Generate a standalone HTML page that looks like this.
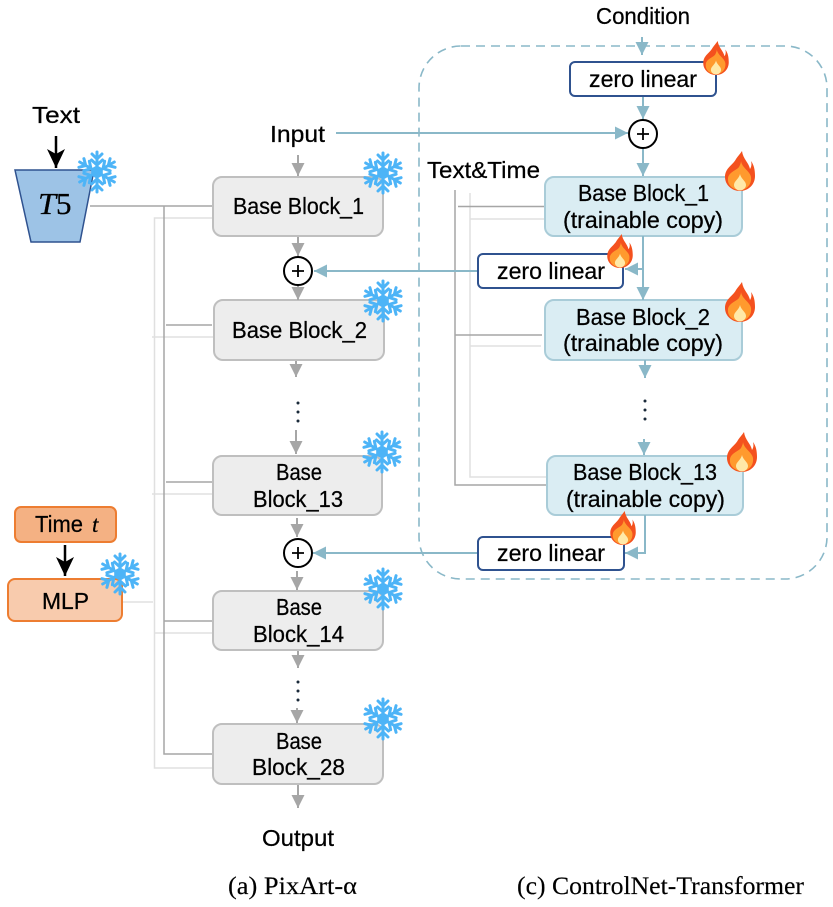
<!DOCTYPE html>
<html><head><meta charset="utf-8"><style>
html,body{margin:0;padding:0;background:#fff}
svg{display:block}
text{font-family:"Liberation Sans",sans-serif;font-size:23px;fill:#000;stroke:#000;stroke-width:.25}
.cap{font-family:"Liberation Serif",serif;font-size:25px;stroke-width:.15}
.gb{fill:#ededed;stroke:#bfbfbf;stroke-width:2}
.bb{fill:#daedf3;stroke:#a9ccd8;stroke-width:2}
.z{fill:#fff;stroke:#2f528f;stroke-width:2}
.d{stroke:#a6a6a6;stroke-width:1.5;fill:none}
.l{stroke:#e0e0e0;stroke-width:1.5;fill:none}
.g{stroke:#a6a6a6;stroke-width:2;fill:none;marker-end:url(#mg)}
.b{stroke:#8ab8c8;stroke-width:2;fill:none;marker-end:url(#mb)}
.k{stroke:#000;stroke-width:2.5;fill:none;marker-end:url(#mk)}
.p{fill:#fff;stroke:#000;stroke-width:2}
</style></head><body>
<svg xmlns="http://www.w3.org/2000/svg" width="833" height="907" viewBox="0 0 833 907">
<defs>
<marker id="mg" markerUnits="userSpaceOnUse" markerWidth="14" markerHeight="14" refX="13" refY="7" orient="auto"><path d="M0 .5L13 7L0 13.500Z" fill="#a6a6a6"/></marker>
<marker id="mb" markerUnits="userSpaceOnUse" markerWidth="14" markerHeight="14" refX="13" refY="7" orient="auto"><path d="M0 .5L13 7L0 13.500Z" fill="#8ab8c8"/></marker>
<marker id="mk" markerUnits="userSpaceOnUse" markerWidth="20" markerHeight="20" refX="19" refY="10" orient="auto"><path d="M0 1L19 10L0 19L5 10Z" fill="#000"/></marker>
<g id="arm"><path d="M0 0V-20M0 -7L-5.500 -12M0 -7L5.500 -12M0 -13L-5 -18M0 -13L5 -18"/></g>
<g id="sf" fill="none" stroke="#4db4f7" stroke-width="3" stroke-linecap="round">
<use href="#arm"/><use href="#arm" transform="rotate(60)"/><use href="#arm" transform="rotate(120)"/><use href="#arm" transform="rotate(180)"/><use href="#arm" transform="rotate(240)"/><use href="#arm" transform="rotate(300)"/>
<path d="M0 -5L4.300 -2.500V2.500L0 5L-4.300 2.500V-2.500Z"/>
</g>
<g id="fire">
<path d="M2 -20C3 -12 9 -8 10 -2C12 -5 11.500 -8 11 -10C14 -6 15 -1 15 5C15 14 8 20 0 20C-8 20 -15 14 -15 6C-15 -3 -7 -6 -4 -12C-2 -15 0 -17 2 -20Z" fill="#f4511e"/>
<path d="M1 -10C2 -3 10 0 11 6C12 14 6 19 0 19C-7 19 -13 14 -12 7C-11 1 -3 -1 -1 -4C0 -6 1 -8 1 -10Z" fill="#ff9a2e"/>
<path d="M0 3C1 8 6 10 6 14C6 17 3 19.500 0 19.500C-3 19.500 -6 17 -6 14C-6 10 -1 8 0 3Z" fill="#ffe9a8"/>
</g>
</defs>
<rect width="833" height="907" fill="#fff"/>

<!-- dashed container -->
<rect x="419" y="46" width="408" height="533" rx="42" fill="none" stroke="#8ab8c8" stroke-width="1.6" stroke-dasharray="9 6"/>

<!-- left gray connectors -->
<path class="l" d="M213 218H154.500V768H213M152 337H213M152 494H213M155 633H213M122 602H153"/>
<path class="d" d="M90 206H213M164 206V754H213M166 325H212M166 482H212M164 621H213"/>
<!-- right gray connectors -->
<path class="l" d="M470 193V477H546M470 219H545M470 346H541"/>
<path class="d" d="M455 190V485H547M458 206.500H545M455 335H542"/>

<!-- T5 -->
<path d="M15 170H94L80 242H31Z" fill="#9dc3e6" stroke="#2f528f" stroke-width="1.500"/>
<text x="38" y="214" style="font-family:'Liberation Serif',serif;font-size:31px;font-style:italic" textLength="18" lengthAdjust="spacingAndGlyphs">T</text>
<text x="56" y="214" style="font-family:'Liberation Serif',serif;font-size:31px">5</text>
<line class="k" x1="56" y1="136" x2="56" y2="168"/>

<!-- Time & MLP -->
<rect x="15" y="507" width="101" height="35" rx="6" fill="#f4b183" stroke="#ed7d31" stroke-width="2"/>
<rect x="8" y="579" width="114" height="42" rx="7" fill="#f8cbad" stroke="#ed7d31" stroke-width="2"/>
<line class="k" x1="65" y1="545" x2="65" y2="576"/>

<!-- base blocks -->
<rect class="gb" x="213" y="177" width="170" height="59" rx="9"/>
<rect class="gb" x="214" y="300" width="170" height="60" rx="9"/>
<rect class="gb" x="213" y="456" width="169" height="59" rx="9"/>
<rect class="gb" x="213" y="591" width="170" height="59" rx="9"/>
<rect class="gb" x="213" y="724" width="170" height="60" rx="9"/>

<!-- gray arrows -->
<line class="g" x1="298" y1="155" x2="298" y2="176"/>
<line class="g" x1="298" y1="237" x2="298" y2="256"/>
<line class="g" x1="298" y1="285" x2="298" y2="300"/>
<line class="g" x1="296" y1="361" x2="296" y2="377"/>
<line class="g" x1="296" y1="430" x2="296" y2="454"/>
<line class="g" x1="297" y1="518" x2="297" y2="537"/>
<line class="g" x1="297" y1="571" x2="297" y2="590"/>
<line class="g" x1="298" y1="651" x2="298" y2="668"/>
<line class="g" x1="297" y1="708" x2="297" y2="723"/>
<line class="g" x1="298" y1="785" x2="298" y2="808"/>

<!-- right blocks -->
<rect class="bb" x="545" y="177" width="197" height="59" rx="9"/>
<rect class="bb" x="545" y="300" width="197" height="60" rx="9"/>
<rect class="bb" x="547" y="456" width="196" height="59" rx="9"/>

<!-- blue arrows -->
<line class="b" x1="642" y1="37" x2="642" y2="55"/>
<line class="b" x1="643" y1="96" x2="643" y2="119"/>
<line class="b" x1="643" y1="148" x2="643" y2="176"/>
<line class="b" x1="336" y1="133" x2="628" y2="133"/>
<line class="b" x1="643" y1="236" x2="643" y2="300"/>
<line class="b" x1="643" y1="269" x2="625" y2="269"/>
<line class="b" x1="478" y1="271" x2="314" y2="271"/>
<line class="b" x1="645" y1="360" x2="645" y2="378"/>
<line class="b" x1="644" y1="439" x2="644" y2="455"/>
<path class="b" d="M645 515V553H625"/>
<line class="b" x1="478" y1="553" x2="313" y2="553"/>

<!-- zero linear boxes -->
<rect class="z" x="570" y="62" width="146" height="34" rx="5"/>
<rect class="z" x="478" y="254" width="145" height="34" rx="5"/>
<rect class="z" x="478" y="537" width="146" height="33" rx="5"/>

<!-- plus nodes -->
<circle class="p" cx="643" cy="134" r="14"/>
<circle class="p" cx="298" cy="271" r="14"/>
<circle class="p" cx="298" cy="553" r="14"/>
<path d="M643 128V140M637 134H649M298 265V277M292 271H304M298 547V559M292 553H304" stroke="#000" stroke-width="1.800" fill="none"/>

<!-- dots -->
<g fill="#1a2a3a">
<circle cx="298" cy="403" r="1.500"/><circle cx="298" cy="412" r="1.500"/><circle cx="298" cy="421" r="1.500"/>
<circle cx="298" cy="682" r="1.500"/><circle cx="298" cy="691" r="1.500"/><circle cx="298" cy="700" r="1.500"/>
<circle cx="645" cy="401" r="1.500"/><circle cx="645" cy="410" r="1.500"/><circle cx="645" cy="419" r="1.500"/>
</g>

<!-- snowflakes -->
<use href="#sf" x="97" y="172"/>
<use href="#sf" x="383" y="173"/>
<use href="#sf" x="383" y="301"/>
<use href="#sf" x="382" y="452"/>
<use href="#sf" x="383" y="589"/>
<use href="#sf" x="383" y="719"/>
<use href="#sf" x="120" y="574"/>

<!-- fires -->
<use href="#fire" transform="translate(716 58) scale(.85)"/>
<use href="#fire" transform="translate(740 171)"/>
<use href="#fire" transform="translate(620 251) scale(.85)"/>
<use href="#fire" transform="translate(740 302)"/>
<use href="#fire" transform="translate(742 452)"/>
<use href="#fire" transform="translate(623 528) scale(.85)"/>

<!-- labels -->
<text x="32" y="123" textLength="48" lengthAdjust="spacingAndGlyphs">Text</text>
<text x="270" y="142" textLength="55" lengthAdjust="spacingAndGlyphs">Input</text>
<text x="596" y="24" textLength="94" lengthAdjust="spacingAndGlyphs">Condition</text>
<text x="589" y="87" textLength="108" lengthAdjust="spacingAndGlyphs">zero linear</text>
<text x="427" y="178" textLength="113" lengthAdjust="spacingAndGlyphs">Text&amp;Time</text>
<text x="233" y="214" textLength="131" lengthAdjust="spacingAndGlyphs">Base Block_1</text>
<text x="232" y="338" textLength="135" lengthAdjust="spacingAndGlyphs">Base Block_2</text>
<text x="276" y="480" textLength="46" lengthAdjust="spacingAndGlyphs">Base</text>
<text x="253" y="507" textLength="90" lengthAdjust="spacingAndGlyphs">Block_13</text>
<text x="276" y="615" textLength="46" lengthAdjust="spacingAndGlyphs">Base</text>
<text x="253" y="642" textLength="91" lengthAdjust="spacingAndGlyphs">Block_14</text>
<text x="276" y="749" textLength="46" lengthAdjust="spacingAndGlyphs">Base</text>
<text x="252" y="775" textLength="93" lengthAdjust="spacingAndGlyphs">Block_28</text>
<text x="578" y="201" textLength="131" lengthAdjust="spacingAndGlyphs">Base Block_1</text>
<text x="563" y="228" textLength="160" lengthAdjust="spacingAndGlyphs">(trainable copy)</text>
<text x="576" y="325" textLength="134" lengthAdjust="spacingAndGlyphs">Base Block_2</text>
<text x="563" y="351" textLength="160" lengthAdjust="spacingAndGlyphs">(trainable copy)</text>
<text x="573" y="480" textLength="144" lengthAdjust="spacingAndGlyphs">Base Block_13</text>
<text x="566" y="507" textLength="159" lengthAdjust="spacingAndGlyphs">(trainable copy)</text>
<text x="497" y="279" textLength="108" lengthAdjust="spacingAndGlyphs">zero linear</text>
<text x="497" y="561" textLength="108" lengthAdjust="spacingAndGlyphs">zero linear</text>
<text x="35" y="532" textLength="48" lengthAdjust="spacingAndGlyphs">Time</text>
<text x="92" y="532" style="font-family:'Liberation Serif',serif;font-style:italic;font-size:23px">t</text>
<text x="42" y="609" textLength="47" lengthAdjust="spacingAndGlyphs">MLP</text>
<text x="262" y="846" textLength="72" lengthAdjust="spacingAndGlyphs">Output</text>
<text class="cap" x="228" y="894" textLength="129" lengthAdjust="spacingAndGlyphs">(a) PixArt-α</text>
<text class="cap" x="517" y="894" textLength="287" lengthAdjust="spacingAndGlyphs">(c) ControlNet-Transformer</text>
</svg>
</body></html>
